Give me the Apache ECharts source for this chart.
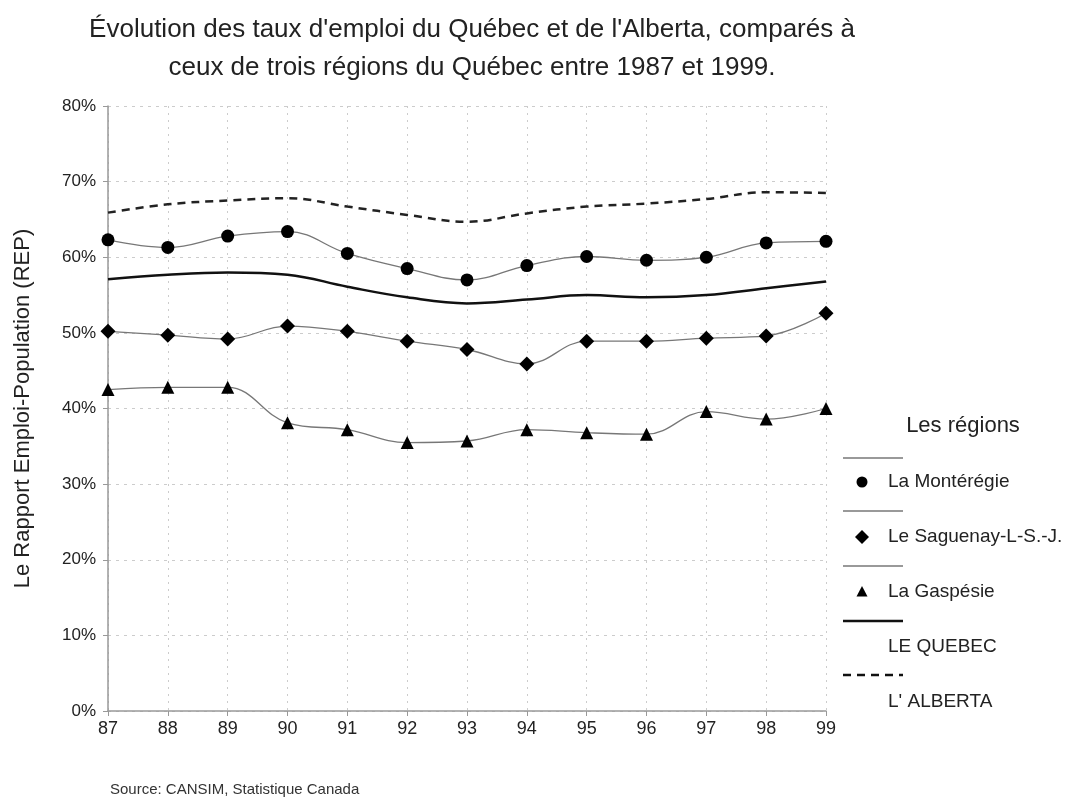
<!DOCTYPE html>
<html><head><meta charset="utf-8">
<script src="https://cdn.jsdelivr.net/npm/echarts@6/dist/echarts.min.js"></script>
<style>html,body{margin:0;padding:0;background:#fff}#c{width:1073px;height:798px}</style>
</head><body><div id="c"></div>
<script>
const years = ['87','88','89','90','91','92','93','94','95','96','97','98','99'];
const monteregie = [62.3,61.3,62.8,63.4,60.5,58.5,57.0,58.9,60.1,59.6,60.0,61.9,62.1];
const saguenay = [50.2,49.7,49.2,50.9,50.2,48.9,47.8,45.9,48.9,48.9,49.3,49.6,52.6];
const gaspesie = [42.5,42.8,42.8,38.1,37.2,35.5,35.7,37.2,36.8,36.6,39.6,38.6,40.0];
const quebec = [57.1,57.7,58.0,57.7,56.1,54.7,53.9,54.4,55.0,54.7,55.0,55.9,56.8];
const alberta = [65.9,67.0,67.5,67.8,66.7,65.6,64.7,65.8,66.7,67.1,67.7,68.6,68.5];
const yTicks = [0,10,20,30,40,50,60,70,80];

const chart = echarts.init(document.getElementById('c'), null, {renderer:'canvas'});
const font = 'Liberation Sans, Arial, sans-serif';
const regionLine = {color:'#777', width:1.3};
function region(name, data, symbol, size){
  return {name, type:'line', data, smooth:0.4, symbol, symbolSize:size,
    lineStyle:regionLine, itemStyle:{color:'#000'}, z:3};
}
const lx = 843, lx2 = 903, mx = 862, tx = 888;
const legendItems = [
  {ly:458, my:482, text:'La Montérégie', sym:'circle'},
  {ly:511, my:537, text:'Le Saguenay-L-S.-J.', sym:'diamond'},
  {ly:566, my:592, text:'La Gaspésie', sym:'triangle'},
  {ly:621, my:647, text:'LE QUEBEC', sym:null, solid:true},
  {ly:675, my:702, text:"L' ALBERTA", sym:null, dashed:true}
];
const graphics = [
  {type:'text', x:963, y:426, style:{text:'Les régions', font:'22px '+font, fill:'#222', textAlign:'center', textVerticalAlign:'middle'}},
  {type:'text', x:110, y:790, style:{text:'Source: CANSIM, Statistique Canada', font:'15px '+font, fill:'#333', textVerticalAlign:'middle'}}
];
legendItems.forEach(it=>{
  graphics.push({type:'line', shape:{x1:lx,y1:it.ly,x2:lx2,y2:it.ly},
    style:{stroke: it.solid||it.dashed ? '#111' : '#777', lineWidth: it.solid?2.5:(it.dashed?2.5:1.3), lineDash: it.dashed?[8,6]:null}});
  if(it.sym==='circle') graphics.push({type:'circle', shape:{cx:mx,cy:it.my,r:5.5}, style:{fill:'#000'}});
  if(it.sym==='diamond') graphics.push({type:'polygon', shape:{points:[[mx,it.my-7],[mx+7,it.my],[mx,it.my+7],[mx-7,it.my]]}, style:{fill:'#000'}});
  if(it.sym==='triangle') graphics.push({type:'polygon', shape:{points:[[mx,it.my-6],[mx+5.5,it.my+4.5],[mx-5.5,it.my+4.5]]}, style:{fill:'#000'}});
  graphics.push({type:'text', x:tx, y:it.my, style:{text:it.text, font:'19px '+font, fill:'#222', textVerticalAlign:'middle'}});
});

chart.setOption({
  backgroundColor:'#fff',
  animation:false,
  title:{text:"Évolution des taux d'emploi du Québec et de l'Alberta, comparés à\nceux de trois régions du Québec entre 1987 et 1999.",
    left:467, textAlign:'center', top:6,
    textStyle:{fontFamily:font, fontSize:26, fontWeight:'normal', color:'#222', lineHeight:38}},
  grid:{left:108, right:247, top:106, bottom:87},
  xAxis:{type:'category', data:years, boundaryGap:false,
    axisLine:{lineStyle:{color:'#999', width:1.5}},
    axisTick:{show:true, length:5, lineStyle:{color:'#999'}},
    axisLabel:{color:'#222', fontFamily:font, fontSize:18, margin:9},
    splitLine:{show:true, lineStyle:{color:'#ccc', type:[2,5]}}},
  yAxis:{type:'value', min:0, max:80, interval:10,
    name:'Le Rapport Emploi-Population (REP)', nameLocation:'middle', nameGap:74, nameRotate:90,
    nameTextStyle:{color:'#222', fontFamily:font, fontSize:22},
    axisLine:{show:true, lineStyle:{color:'#999', width:1.5}},
    axisTick:{show:true, length:5, lineStyle:{color:'#999'}},
    axisLabel:{color:'#222', fontFamily:font, fontSize:17, margin:12, formatter:v=>yTicks.includes(v)?v+'%':''},
    splitLine:{show:true, lineStyle:{color:'#ccc', type:[3,5]}}},
  series:[
    {name:"L' ALBERTA", type:'line', data:alberta, smooth:0.4, symbol:'none',
      lineStyle:{color:'#222', width:2.5, type:[8,6]}, z:2},
    region('La Montérégie', monteregie, 'circle', 13),
    {name:'LE QUEBEC', type:'line', data:quebec, smooth:0.4, symbol:'none',
      lineStyle:{color:'#111', width:2.5}, z:2},
    region('Le Saguenay-L-S.-J.', saguenay, 'diamond', 15),
    region('La Gaspésie', gaspesie, 'triangle', 13)
  ],
  graphic:graphics
});
</script></body></html>
